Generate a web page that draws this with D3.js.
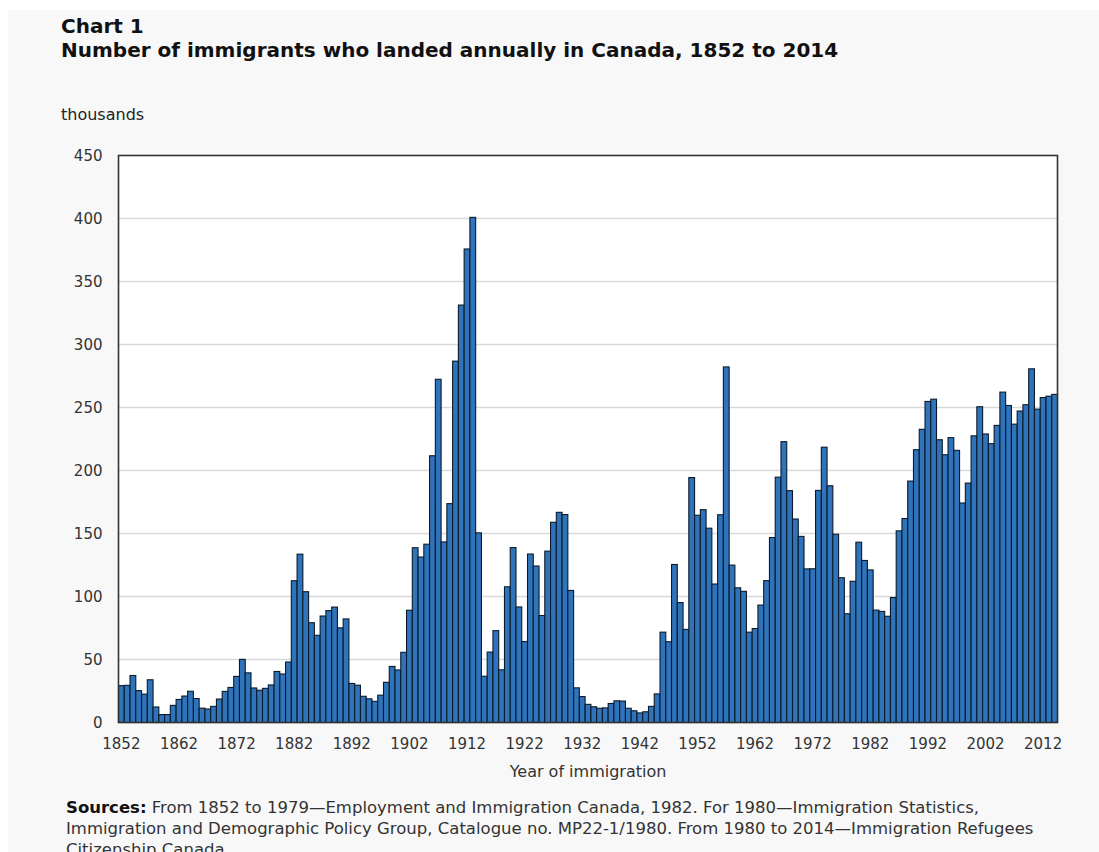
<!DOCTYPE html>
<html>
<head>
<meta charset="utf-8">
<script src="https://cdn.jsdelivr.net/npm/d3@7"></script>
<style>
  body { margin: 0; background: #fff; }
  text { font-family: "DejaVu Sans", Verdana, sans-serif; }
</style>
</head>
<body>
<svg id="chart" width="1099" height="852"></svg>
<script>
const width = 1099;
const height = 852;
const marginTop = 155.5;
const marginRight = 41.5;
const marginBottom = 129.5;
const marginLeft = 118.5;

// years 1852..2014
const years = d3.range(1852, 2015);

// immigrants landed, thousands
const landed = [
  29.3, 29.5, 37.3, 25.3, 22.5, 33.9, 12.3, 6.3, 6.3, 13.6,
  18.3, 21.0, 24.8, 19.0, 11.4, 10.7, 12.8, 18.6, 24.7, 27.8,
  36.6, 50.1, 39.4, 27.4, 25.6, 27.1, 29.8, 40.5, 38.5, 48.0,
  112.5, 133.6, 103.8, 79.2, 69.2, 84.5, 88.8, 91.6, 75.1, 82.2,
  31.0, 29.6, 20.8, 18.8, 16.8, 21.7, 31.9, 44.5, 41.7, 55.7,
  89.1, 138.7, 131.3, 141.5, 211.7, 272.4, 143.3, 173.7, 286.8, 331.3,
  375.8, 400.9, 150.5, 36.7, 55.9, 72.9, 41.8, 107.7, 138.8, 91.7,
  64.2, 133.7, 124.2, 84.9, 136.0, 158.9, 166.8, 165.0, 104.8, 27.5,
  20.6, 14.4, 12.5, 11.3, 11.6, 15.1, 17.2, 17.0, 11.3, 9.3,
  7.6, 8.5, 12.8, 22.7, 71.7, 64.1, 125.4, 95.2, 73.9, 194.4,
  164.5, 168.9, 154.2, 109.9, 164.9, 282.2, 124.9, 106.9, 104.1, 71.7,
  74.6, 93.2, 112.6, 146.8, 194.7, 222.9, 184.0, 161.5, 147.7, 121.9,
  122.0, 184.2, 218.5, 187.9, 149.4, 114.9, 86.3, 112.1, 143.1, 128.6,
  121.1, 89.2, 88.2, 84.3, 99.2, 152.1, 161.9, 191.6, 216.5, 232.7,
  254.8, 256.6, 224.4, 212.5, 226.1, 216.0, 174.2, 190.0, 227.5, 250.6,
  229.0, 221.3, 235.8, 262.2, 251.6, 236.8, 247.2, 252.2, 280.7, 248.7,
  257.9, 259.0, 260.4
];

const yTicks = [0, 50, 100, 150, 200, 250, 300, 350, 400, 450];
const xTickYears = d3.range(1852, 2015, 10);

const title1 = "Chart 1";
const title2 = "Number of immigrants who landed annually in Canada, 1852 to 2014";
const sourceLines = [
  "From 1852 to 1979\u2014Employment and Immigration Canada, 1982. For 1980\u2014Immigration Statistics,",
  "Immigration and Demographic Policy Group, Catalogue no. MP22-1/1980. From 1980 to 2014\u2014Immigration Refugees",
  "Citizenship Canada."
];

const svg = d3.select("#chart");

// page background
svg.append("rect")
  .attr("x", 8).attr("y", 10)
  .attr("width", width - 8).attr("height", height - 10)
  .attr("fill", "#f8f8f8");

// titles
svg.append("text")
  .attr("x", 61).attr("y", 33)
  .attr("font-size", 20).attr("font-weight", "bold").attr("fill", "#111")
  .text(title1);
svg.append("text")
  .attr("x", 61).attr("y", 57)
  .attr("font-size", 20).attr("font-weight", "bold").attr("fill", "#111")
  .text(title2);

svg.append("text")
  .attr("x", 61).attr("y", 120)
  .attr("font-size", 16).attr("fill", "#222")
  .text("thousands");

const x = d3.scaleBand()
  .domain(years)
  .range([marginLeft, width - marginRight])
  .paddingInner(0)
  .paddingOuter(0);

const y = d3.scaleLinear()
  .domain([0, 450])
  .range([height - marginBottom, marginTop]);

// plot background
svg.append("rect")
  .attr("x", marginLeft).attr("y", marginTop)
  .attr("width", width - marginRight - marginLeft)
  .attr("height", height - marginBottom - marginTop)
  .attr("fill", "#fff");

// gridlines
svg.append("g")
  .selectAll("line")
  .data(yTicks.slice(1, -1))
  .join("line")
  .attr("x1", marginLeft).attr("x2", width - marginRight)
  .attr("y1", d => y(d)).attr("y2", d => y(d))
  .attr("stroke", "#d9d9d9")
  .attr("stroke-width", 1.5);

// bars
svg.append("g")
  .selectAll("rect")
  .data(years.map((yr, i) => ({ year: yr, value: landed[i] })))
  .join("rect")
  .attr("x", d => x(d.year))
  .attr("width", x.bandwidth())
  .attr("y", d => y(d.value))
  .attr("height", d => y(0) - y(d.value))
  .attr("fill", "#2f74bb")
  .attr("stroke", "#0b1a2a")
  .attr("stroke-width", 1.1);

// frame
svg.append("rect")
  .attr("x", marginLeft).attr("y", marginTop)
  .attr("width", width - marginRight - marginLeft)
  .attr("height", height - marginBottom - marginTop)
  .attr("fill", "none")
  .attr("stroke", "#333")
  .attr("stroke-width", 1.6);

// y axis
svg.append("g")
  .attr("transform", `translate(${marginLeft},0)`)
  .call(d3.axisLeft(y).tickValues(yTicks).tickSize(0).tickPadding(16))
  .call(g => g.select(".domain").remove())
  .call(g => g.selectAll("text")
    .attr("font-size", 15)
    .attr("fill", "#333")
    .style("font-family", "DejaVu Sans, Verdana, sans-serif"));

// x axis
svg.append("g")
  .attr("transform", `translate(0,${height - marginBottom})`)
  .call(d3.axisBottom(x).tickValues(xTickYears).tickSize(0).tickPadding(16))
  .call(g => g.select(".domain").remove())
  .call(g => g.selectAll("text")
    .attr("font-size", 15)
    .attr("fill", "#333")
    .style("font-family", "DejaVu Sans, Verdana, sans-serif"));

svg.append("text")
  .attr("x", (marginLeft + width - marginRight) / 2)
  .attr("y", 777)
  .attr("text-anchor", "middle")
  .attr("font-size", 16).attr("fill", "#333")
  .text("Year of immigration");

// sources
const src = svg.append("text")
  .attr("font-size", 16.5).attr("fill", "#333");
sourceLines.forEach((line, i) => {
  const t = src.append("tspan")
    .attr("x", 66)
    .attr("y", 813 + i * 21);
  if (i === 0) {
    t.append("tspan").attr("font-weight", "bold").attr("fill", "#111").text("Sources:");
    t.append("tspan").text(" " + line);
  } else {
    t.text(line);
  }
});
</script>
</body>
</html>
